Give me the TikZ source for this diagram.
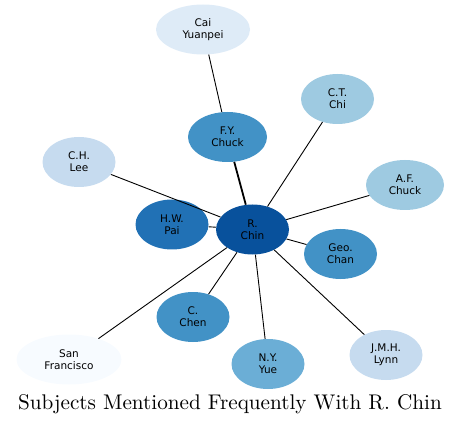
\documentclass[tikz,border=0pt]{standalone}
\usepackage{fontspec}
\newfontfamily\nodefont{DejaVu Sans}
\newfontfamily\titlefont{lmroman10-regular}[Extension=.otf]
\usetikzlibrary{shapes.geometric}
\definecolor{Blues1}{HTML}{F7FBFF}
\definecolor{Blues2}{HTML}{DEEBF7}
\definecolor{Blues3}{HTML}{C6DBEF}
\definecolor{Blues4}{HTML}{9ECAE1}
\definecolor{Blues5}{HTML}{6BAED6}
\definecolor{Blues6}{HTML}{4292C6}
\definecolor{Blues7}{HTML}{2171B5}
\definecolor{Blues8}{HTML}{08519C}
\begin{document}
\begin{tikzpicture}[x=1pt, y=-1pt]
\tikzset{
  person/.style={ellipse, draw=none, inner sep=0pt, minimum width=73pt,
    minimum height=50pt, align=center,
    font=\nodefont\fontsize{10.5}{11.8}\selectfont},
  link/.style={black, line width=0.9pt},
}
  \useasboundingbox (0,0) rectangle (461,425);

  % Centre node
  \node[person, fill=Blues8] (chin) at (252.5,229.5) {R.\\Chin};

  % Associates
  \node[person, fill=Blues2, minimum width=94pt] (cai) at (203,29.5) {Cai\\Yuanpei};
  \node[person, fill=Blues6, minimum width=79pt] (fychuck) at (227.5,137) {F.Y.\\Chuck};
  \node[person, fill=Blues4] (chi) at (337.5,99) {C.T.\\Chi};
  \node[person, fill=Blues3] (lee) at (79,162) {C.H.\\Lee};
  \node[person, fill=Blues4, minimum width=78pt] (afchuck) at (405,185) {A.F.\\Chuck};
  \node[person, fill=Blues7] (pai) at (172,224.5) {H.W.\\Pai};
  \node[person, fill=Blues6] (chan) at (340.5,254) {Geo.\\Chan};
  \node[person, fill=Blues6] (chen) at (193,317) {C.\\Chen};
  \node[person, fill=Blues5] (yue) at (268,364) {N.Y.\\Yue};
  \node[person, fill=Blues3] (lynn) at (386,355) {J.M.H.\\Lynn};
  \node[person, fill=Blues1, minimum width=105pt] (sf) at (69,359.5) {San\\Francisco};

  % Links
  \draw[link] (cai) -- (fychuck);
  \draw[link, line width=1.8pt] (chin) -- (fychuck);
  \draw[link] (chin) -- (chi);
  \draw[link] (chin) -- (lee);
  \draw[link] (chin) -- (afchuck);
  \draw[link] (chin) -- (pai);
  \draw[link] (chin) -- (chan);
  \draw[link] (chin) -- (chen);
  \draw[link] (chin) -- (yue);
  \draw[link] (chin) -- (lynn);
  \draw[link] (chin) -- (sf);

  % Title
  \node[anchor=base, font=\titlefont\fontsize{21.2}{24}\selectfont, inner sep=0pt] (title)
    at (230,409) {Subjects Mentioned Frequently With R. Chin};
\end{tikzpicture}
\end{document}
